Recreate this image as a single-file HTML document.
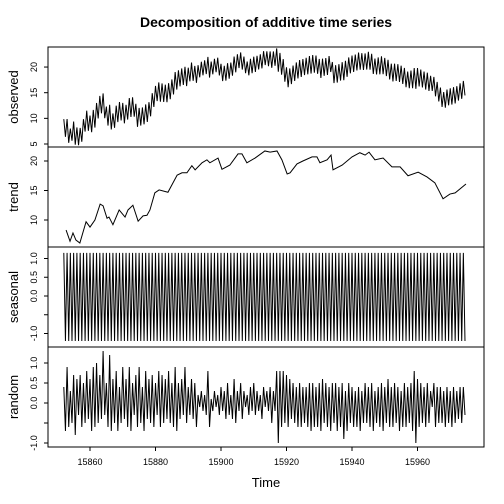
<!DOCTYPE html>
<html><head><meta charset="utf-8"><style>
body{margin:0;background:#fff}
svg{display:block;font-family:"Liberation Sans",Arial,sans-serif}
</style></head><body>
<svg id="c" width="504" height="504" viewBox="0 0 504 504">
<text x="266" y="27" text-anchor="middle" font-size="14" font-weight="bold">Decomposition of additive time series</text>
<text x="266" y="487" text-anchor="middle" font-size="13">Time</text>
<g id="g"></g>
</svg>
<script>
const xTicks=[15860,15880,15900,15920,15940,15960];
const trendT=[52.7,53.9,54.8,55.7,56.9,58.8,60,61.5,63.1,64,65.2,65.8,67,68.9,70.7,71.6,73.1,74.7,76.2,77.4,78.3,79.8,81.1,83.8,86.6,88.1,89.6,91.1,92.1,94.2,95.7,96.6,99.1,100.3,102.7,105.2,106.4,107.9,110.4,113.4,115,117.1,118.6,120.2,121.1,123.2,125,127.8,129.3,130.2,132.4,133.6,134.2,137,140,142.4,144,145.2,147,149.5,152.2,154.7,157.1,160.2,162.9,165.3,167.8,169.9,171.5,174.8];
const trendV=[8.3,6.4,7.8,6.6,6.1,9.7,8.8,10,12.7,12.4,10.3,10.5,9.2,11.7,10.5,11.7,12.5,9.8,10.7,10.8,11.7,14.6,15.1,14.7,17.6,18,18,19.2,18.5,19.7,20.2,19.7,20.5,18.6,19.3,21.2,21.2,19.7,20.5,21.7,21.5,21.7,20.2,17.8,18,19.5,20,20.7,20.7,19.7,20.2,21,18.5,19.3,20.7,21.4,21,21.5,20.2,20.5,19,19,17.5,18.1,17.3,16.3,13.6,14.4,14.6,16.1];
const seasonalPattern=[1.15,-1.2];
const randomV=[.4,-.7,.9,-.6,.3,-.5,.7,-.8,.6,-.3,.7,-.6,.5,-.5,.8,-.4,.6,-.7,.9,-.6,
1.0,-.5,.7,-.4,1.3,-.3,.5,-.6,1.2,-.7,.6,-.5,.8,-.7,.4,-.5,.9,-.4,.6,-.6,
.9,-.7,.5,-.3,.7,-.6,.9,-.5,.4,-.7,.8,-.4,.6,-.5,.7,-.6,.5,-.3,.8,-.6,
.7,-.5,.6,-.4,.8,-.5,.5,-.6,.9,-.7,.5,-.4,.6,-.3,.9,-.5,.4,-.3,.6,-.4,
.5,-.6,.2,-.1,.3,-.2,.2,-.3,.8,-.6,.1,-.2,.3,-.1,.2,-.3,.4,-.2,.3,-.4,
.5,-.3,.2,-.4,.6,-.5,.3,-.2,.5,-.4,.3,-.1,.2,-.3,.4,-.2,.5,-.3,.3,-.2,
.2,-.4,.4,-.1,.3,-.2,.4,-.5,.3,-.2,.8,-1.0,.8,-.6,.8,-.5,.7,-.6,.6,-.4,
.5,-.5,.4,-.6,.5,-.6,.4,-.5,.4,-.6,.5,-.7,.5,-.6,.4,-.6,.5,-.7,.6,-.5,
.5,-.6,.4,-.7,.5,-.5,.5,-.7,.4,-.6,.5,-.9,.3,-.7,.5,-.5,.4,-.6,.3,-.6,
.4,-.7,.3,-.5,.5,-.5,.4,-.6,.5,-.7,.3,-.5,.4,-.6,.5,-.7,.4,-.5,.6,-.6,
.4,-.6,.5,-.5,.4,-.7,.3,-.6,.5,-.6,.4,-.5,.5,-.7,.8,-1.0,.6,-.6,.5,-.5,
.4,-.6,.5,-.5,.3,-.1,.5,-.6,.4,-.5,.4,-.5,.3,-.6,.4,-.5,.3,-.6,.4,-.5,.3,-.4,.4,-.5,.4,-.3];
const obsTicks=[5,10,15,20], trendTicks=[10,15,20], seasTicks=[-1.0,-0.5,0.0,0.5,1.0], randTicks=[-1.0,-0.5,0.0,0.5,1.0];
const tStart=15852, perDay=2;

const NS='http://www.w3.org/2000/svg', g=document.getElementById('g');
const L=48,R=484;
const x=t=>90+(t-15860)*3.275;
const yObs=v=>144-(v-5)*5.13, yTr=v=>220-(v-10)*5.9, ySe=v=>296-v*37.5, yRa=v=>403-v*40;
function el(tag,attrs,parent){const e=document.createElementNS(NS,tag);for(const k in attrs)e.setAttribute(k,attrs[k]);(parent||g).appendChild(e);return e;}
function trendAt(t){if(t<=15800+trendT[0])return trendV[0];for(let i=1;i<trendT.length;i++){const a=15800+trendT[i-1],b=15800+trendT[i];if(t<=b)return trendV[i-1]+(trendV[i]-trendV[i-1])*(t-a)/(b-a);}return trendV[trendV.length-1];}
const times=randomV.map((_,i)=>tStart+i/perDay);
const seasV=times.map((_,i)=>seasonalPattern[i%seasonalPattern.length]);
const obsV=times.map((t,i)=>trendAt(t)+seasV[i]+randomV[i]);
const panels=[
 {name:'observed',top:47,bot:147,y:yObs,ticks:obsTicks,lab:v=>String(v),labels:[5,10,15,20],pts:times.map((t,i)=>[t,obsV[i]])},
 {name:'trend',top:147,bot:247,y:yTr,ticks:trendTicks,lab:v=>String(v),labels:trendTicks,pts:trendT.map((t,i)=>[15800+t,trendV[i]])},
 {name:'seasonal',top:247,bot:347,y:ySe,ticks:seasTicks,lab:v=>v.toFixed(1),labels:[-1.0,0.0,0.5,1.0],pts:times.map((t,i)=>[t,seasV[i]])},
 {name:'random',top:347,bot:447,y:yRa,ticks:randTicks,lab:v=>v.toFixed(1),labels:[-1.0,0.0,0.5,1.0],pts:times.map((t,i)=>[t,randomV[i]])}
];
panels.forEach(p=>{
 const grp=el('g',{});
 
 
 const line=el('polyline',{points:p.pts.map(q=>x(q[0]).toFixed(2)+','+p.y(q[1]).toFixed(2)).join(' '),fill:'none',stroke:'#000','stroke-width':'1'},grp);
 
 
 const box=el('rect',{x:L,y:p.top,width:R-L,height:p.bot-p.top,fill:'none',stroke:'#000','stroke-width':'1'},grp);
 
 
 p.ticks.forEach(v=>{
  const yy=p.y(v);
  const tk=el('line',{x1:L-4,x2:L,y1:yy,y2:yy,stroke:'#000'},grp);
  
  
  if(p.labels.indexOf(v)>=0){
   const tx=el('text',{x:37,y:yy,'font-size':'9','text-anchor':'middle',transform:'rotate(-90 37 '+yy+')'},grp);
   tx.textContent=p.lab(v);
   
   
  }
 });
 const yl=(p.top+p.bot)/2;
 const t=el('text',{x:18,y:yl,'font-size':'13','text-anchor':'middle',transform:'rotate(-90 18 '+yl+')'},grp);
 t.textContent=p.name;
 
 
});
xTicks.forEach(v=>{
 const xx=x(v);
 const tk=el('line',{x1:xx,x2:xx,y1:447,y2:451,stroke:'#000'});
 
 
 const tx=el('text',{x:xx,y:465,'font-size':'9','text-anchor':'middle'});
 tx.textContent=String(v);
 
 
});
</script>
</body></html>
